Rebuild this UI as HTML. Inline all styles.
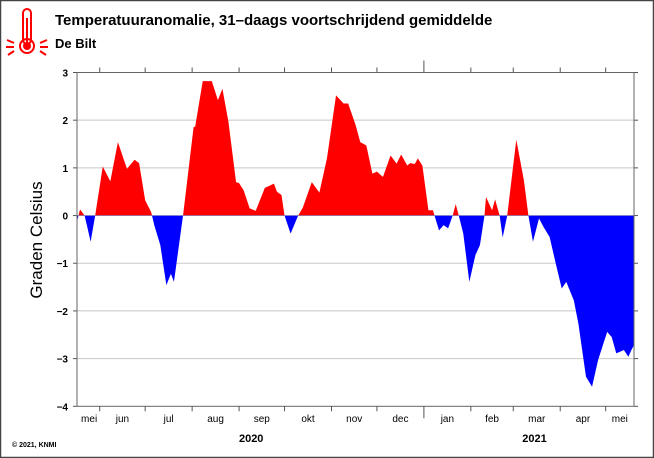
<!DOCTYPE html>
<html><head><meta charset="utf-8"><style>
body{margin:0;background:#fff;}
svg{display:block;font-family:"Liberation Sans",sans-serif;}
</style></head><body>
<svg width="654" height="458" viewBox="0 0 654 458">
<rect x="0.5" y="0.5" width="653" height="457" fill="#fff" stroke="#444" stroke-width="1.5"/>
<g stroke="#f00" fill="none" stroke-width="2">
<rect x="23" y="9" width="8" height="35" rx="4"/>
<circle cx="27" cy="46" r="7"/>
<circle cx="27" cy="46" r="3" fill="#f00"/>
<line x1="27" y1="18" x2="27" y2="43"/>
<line x1="7" y1="40" x2="14" y2="43"/><line x1="6" y1="47" x2="14" y2="47"/><line x1="8" y1="55" x2="14" y2="51"/>
<line x1="47" y1="40" x2="40" y2="43"/><line x1="48" y1="47" x2="40" y2="47"/><line x1="46" y1="55" x2="40" y2="51"/>
</g>
<text x="55" y="25" font-size="15" font-weight="bold">Temperatuuranomalie, 31–daags voortschrijdend gemiddelde</text>
<text x="55" y="48" font-size="13" font-weight="bold">De Bilt</text>
<text transform="translate(42,240) rotate(-90)" text-anchor="middle" font-size="17">Graden Celsius</text>
<text x="12" y="447" font-size="7" font-weight="bold">© 2021, KNMI</text>
<g id="grid"></g>
<g id="area"></g>
<g id="axes"></g>
</svg>
<script>
const days=[0,2,5,7,9,12,17,22,27,33,38,41,45,49,51,55,59,62,64,70,77,78,83,89,93,96,100,105,107,110,114,118,124,130,132,135,137,141,146,149,155,160,165,171,176,179,184,187,191,195,198,202,207,211,214,218,220,223,225,228,232,235,236,239,242,245,248,250,252,255,259,263,266,269,270,274,276,279,281,284,290,295,298,301,305,308,312,316,320,323,328,331,336,340,344,350,353,356,361,364,366,368];
const temps=[-0.13,0.13,0,-0.27,-0.55,0,1.03,0.72,1.54,0.98,1.17,1.1,0.32,0.07,-0.2,-0.62,-1.46,-1.22,-1.39,0,1.86,1.86,2.82,2.82,2.42,2.66,1.96,0.7,0.68,0.53,0.15,0.1,0.58,0.67,0.5,0.43,0,-0.38,0,0.16,0.7,0.48,1.2,2.52,2.35,2.35,1.89,1.54,1.47,0.88,0.92,0.81,1.26,1.09,1.28,1.05,1.1,1.08,1.2,1.05,0.11,0.11,0,-0.31,-0.2,-0.27,0,0.24,0,-0.38,-1.39,-0.83,-0.62,0,0.39,0.11,0.34,0,-0.46,0,1.59,0.74,0,-0.55,-0.06,-0.24,-0.45,-1.0,-1.53,-1.39,-1.78,-2.27,-3.38,-3.59,-3.03,-2.44,-2.55,-2.89,-2.82,-2.96,-2.82,-2.7];
const yTicks=[3,2,1,0,-1,-2,-3,-4];
const monthLabels=["mei","jun","jul","aug","sep","okt","nov","dec","jan","feb","mar","apr","mei"];
const monthStartDays=[-16,15,45,76,107,137,168,198,229,260,288,319,349];
const yearLabels=["2020","2021"];
const yearDays=[115,302];
const x0=77,x1=634,y0=72.5,y1=406.3,dMax=367.7;
const X=d=>x0+(d)/dMax*(x1-x0);
const Y=v=>y0+(3-v)/7*(y1-y0);
const NS="http://www.w3.org/2000/svg";
function mk(t,a,p){const e=document.createElementNS(NS,t);for(const k in a)e.setAttribute(k,a[k]);p.appendChild(e);return e;}
const grid=document.getElementById('grid'),area=document.getElementById('area'),axes=document.getElementById('axes');
yTicks.forEach(v=>{
 if(v!==3&&v!==-4){const l=mk('line',{x1:x0,x2:x1,y1:Y(v),y2:Y(v),stroke:'#c8c8c8','stroke-width':1},grid);
 
 }
 const t=mk('text',{x:x0-9,y:Y(v)+4,'font-size':10,'font-weight':'bold','text-anchor':'end'},axes);t.textContent=String(v).replace('-','\u2212');
 
 
 mk('line',{x1:x0-4,x2:x0,y1:Y(v),y2:Y(v),stroke:'#555'},axes);
 mk('line',{x1:x1,x2:x1+4,y1:Y(v),y2:Y(v),stroke:'#555'},axes);
});
let pts=`${X(days[0])},${Y(0)} `+days.map((d,i)=>`${X(d)},${Y(temps[i])}`).join(' ')+` ${X(days[days.length-1])},${Y(0)}`;
const defs=mk('defs',{},area);
const c1=mk('clipPath',{id:'above'},defs);mk('rect',{x:0,y:0,width:654,height:Y(0)},c1);
const c2=mk('clipPath',{id:'below'},defs);mk('rect',{x:0,y:Y(0),width:654,height:300},c2);
const r=mk('polygon',{points:pts,fill:'#ff0000','clip-path':'url(#above)'},area);


const b=mk('polygon',{points:pts,fill:'#0000ff','clip-path':'url(#below)'},area);


mk('line',{x1:x0,x2:x1,y1:Y(0),y2:Y(0),stroke:'#8080c0','stroke-width':0.6},area);
const box=mk('rect',{x:x0,y:y0,width:x1-x0,height:y1-y0,fill:'none',stroke:'#666','stroke-width':1},axes);


monthStartDays.forEach((d,i)=>{
 if(d>0){const jan=(monthLabels[i]==='jan');
  mk('line',{x1:X(d),x2:X(d),y1:y0-(jan?12:5),y2:y0,stroke:'#555'},axes);
  mk('line',{x1:X(d),x2:X(d),y1:y1,y2:y1+(jan?12:5),stroke:'#555'},axes);}
 const next=i+1<monthStartDays.length?monthStartDays[i+1]:dMax+12;
 const mid=Math.max(d,0)+(Math.min(next,dMax)-Math.max(d,0))/2;
 const t=mk('text',{x:X(i===0?d+24:mid),y:422,'font-size':10,'text-anchor':'middle'},axes);t.textContent=monthLabels[i];
 
 
});
yearDays.forEach((d,i)=>{const t=mk('text',{x:X(d),y:442,'font-size':11,'font-weight':'bold','text-anchor':'middle'},axes);t.textContent=yearLabels[i];
 
 });
</script>
</body></html>
